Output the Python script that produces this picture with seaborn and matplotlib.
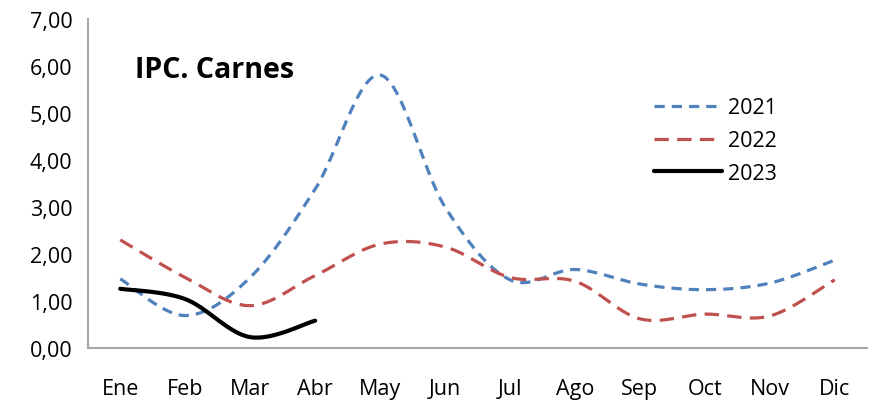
import numpy as np
import pandas as pd
import matplotlib
matplotlib.use("Agg")
import matplotlib.pyplot as plt
import seaborn as sns

months = ["Ene", "Feb", "Mar", "Abr", "May", "Jun", "Jul", "Ago", "Sep", "Oct", "Nov", "Dic"]
ipc_2021 = [1.47, 0.69, 1.50, 3.38, 5.81, 3.00, 1.45, 1.67, 1.36, 1.24, 1.38, 1.87]
ipc_2022 = [2.30, 1.50, 0.90, 1.54, 2.21, 2.15, 1.50, 1.42, 0.62, 0.72, 0.68, 1.45]
ipc_2023 = [1.26, 1.04, 0.23, 0.58]

series = {"2021": ipc_2021, "2022": ipc_2022, "2023": ipc_2023}
colors = {"2021": "#4F81BD", "2022": "#C0504D", "2023": "#000000"}
dash_styles = {"2021": [3.2, 2.2], "2022": [4.5, 2.6], "2023": []}


def smooth(vals, n=30):
    # Excel-style smoothed line: Bezier segments with Catmull-Rom control points
    pts = np.column_stack([np.arange(len(vals)), vals]).astype(float)
    ext = np.vstack([pts[0], pts, pts[-1]])
    out = []
    t = np.linspace(0, 1, n)[:, None]
    for i in range(1, len(ext) - 2):
        p0, p1, p2, p3 = ext[i - 1], ext[i], ext[i + 1], ext[i + 2]
        c1 = p1 + (p2 - p0) / 6
        c2 = p2 - (p3 - p1) / 6
        seg = ((1 - t) ** 3) * p1 + 3 * ((1 - t) ** 2) * t * c1 + 3 * (1 - t) * t ** 2 * c2 + t ** 3 * p2
        out.append(seg if i == 1 else seg[1:])
    return np.vstack(out)


rows = []
for year, vals in series.items():
    xy = smooth(vals)
    rows.append(pd.DataFrame({"x": xy[:, 0], "y": xy[:, 1], "year": year}))
df = pd.concat(rows, ignore_index=True)

sns.set_theme(style="white")
plt.rcParams["font.family"] = ["Open Sans", "DejaVu Sans"]
plt.rcParams["text.color"] = "black"
plt.rcParams["xtick.labelcolor"] = "black"
plt.rcParams["ytick.labelcolor"] = "black"

fig = plt.figure(figsize=(8.69, 4.02), dpi=100)
ax = fig.add_axes([0.101, 0.132, 0.897, 0.818])

sns.lineplot(data=df, x="x", y="y", hue="year", palette=colors, sort=False,
             estimator=None, ax=ax, legend=False)
lines = ax.get_lines()
widths = [2.3, 2.3, 3.0]
for ln, year, w in zip(lines, series, widths):
    ln.set_linewidth(w)
    if dash_styles[year]:
        ln.set_dashes(dash_styles[year])
    ln.set_solid_capstyle("round")
    ln.set_dash_capstyle("butt")

ax.set_xlim(-0.5, 11.5)
ax.set_ylim(0, 7)
ax.set_yticks(np.arange(0, 8, 1))
ax.set_yticklabels([f"{v:.2f}".replace(".", ",") for v in range(8)], fontsize=15.5)
ax.set_xticks(np.arange(-0.5, 12, 1))
ax.set_xticklabels([])
ax.set_xticks(np.arange(12), minor=True)
ax.set_xticklabels(months, minor=True, fontsize=15.5)
ax.tick_params(axis="x", which="major", length=9, width=1.5, color="#A6A6A6", direction="out")
ax.tick_params(axis="x", which="minor", length=0, pad=22, labelcolor="black")
ax.tick_params(axis="y", length=7, width=1.5, color="#A6A6A6", direction="out", pad=4,
               labelcolor="black")
ax.set_xlabel("")
ax.set_ylabel("")

sns.despine(ax=ax)
for side in ["left", "bottom"]:
    ax.spines[side].set_color("#A6A6A6")
    ax.spines[side].set_linewidth(1.5)

ax.text(0.06, 0.847, "IPC. Carnes", transform=ax.transAxes, color="black",
        fontsize=20.5, fontweight="bold", va="center", ha="left")

handles = []
for year, w in zip(series, widths):
    h = plt.Line2D([], [], color=colors[year], linewidth=w)
    if dash_styles[year]:
        h.set_dashes(dash_styles[year])
    h.set_solid_capstyle("round")
    handles.append(h)
leg = ax.legend(handles, list(series.keys()), loc="upper left", bbox_to_anchor=(0.712, 0.795),
                frameon=False, fontsize=15.5, handlelength=3.2, handletextpad=0.25,
                labelspacing=0.55, borderpad=0)
for txt in leg.get_texts():
    txt.set_color("black")

fig.savefig("out.png", dpi=100)
